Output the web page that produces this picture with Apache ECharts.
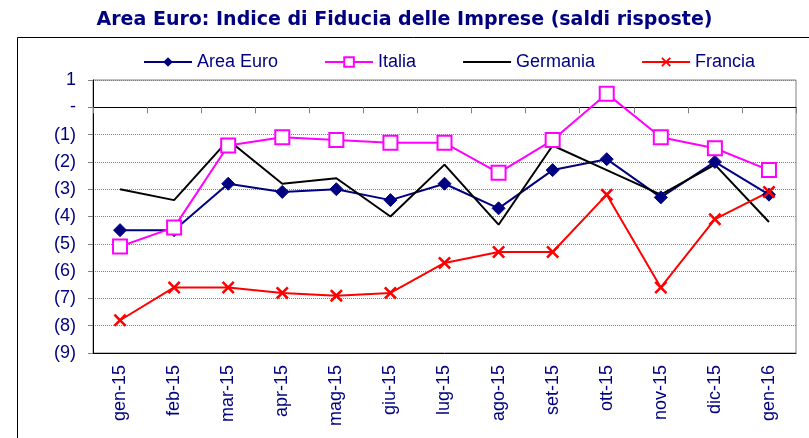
<!DOCTYPE html>
<html lang="it">
<head>
    <meta charset="UTF-8">
    <title>Area Euro: Indice di Fiducia delle Imprese</title>
    <script src="https://cdn.jsdelivr.net/npm/echarts@6.0.0/dist/echarts.min.js"></script>
    <style>
        body, html {
            margin: 0;
            padding: 0;
            background-color: #ffffff;
        }
        #chart {
            width: 809px;
            height: 438px;
        }
    </style>
</head>
<body>
    <div id="chart"></div>

    <script>
        // dati
        var mesi = ['gen-15', 'feb-15', 'mar-15', 'apr-15', 'mag-15', 'giu-15', 'lug-15',
                    'ago-15', 'set-15', 'ott-15', 'nov-15', 'dic-15', 'gen-16'];
        var areaEuro = [-4.5, -4.5, -2.8, -3.1, -3.0, -3.4, -2.8, -3.7, -2.3, -1.9, -3.3, -2.0, -3.2];
        var italia   = [-5.1, -4.4, -1.4, -1.1, -1.2, -1.3, -1.3, -2.4, -1.2, 0.5, -1.1, -1.5, -2.3];
        var germania = [-3.0, -3.4, -1.2, -2.8, -2.6, -4.0, -2.1, -4.3, -1.4, -2.3, -3.2, -2.1, -4.2];
        var francia  = [-7.8, -6.6, -6.6, -6.8, -6.9, -6.8, -5.7, -5.3, -5.3, -3.2, -6.6, -4.1, -3.1];

        var blu = '#000080';
        var font = 'Liberation Sans, Arial, sans-serif';

        // simbolo a croce (x)
        var croce = 'path://M0,1.4 L1.4,0 L5,3.6 L8.6,0 L10,1.4 L6.4,5 L10,8.6 L8.6,10 L5,6.4 L1.4,10 L0,8.6 L3.6,5 Z';

        var chart = echarts.init(document.getElementById('chart'));

        // etichette asse y: 1, -, (1), (2) ...
        function etichettaY(v) {
            if (v === 0) return '-';
            if (v < 0) return '(' + (-v) + ')';
            return String(v);
        }

        var option = {
            animation: false,
            title: {
                text: 'Area Euro: Indice di Fiducia delle Imprese (saldi risposte)',
                left: 'center',
                top: 6,
                textStyle: {
                    color: blu,
                    fontFamily: 'DejaVu Sans, Verdana, sans-serif',
                    fontSize: 19,
                    fontWeight: 'bold'
                }
            },
            graphic: [{
                type: 'rect',
                shape: { x: 17.5, y: 37.5, width: 800, height: 420 },
                style: { fill: 'none', stroke: '#000', lineWidth: 1 },
                silent: true
            }],
            legend: {
                left: 138,
                top: 48,
                itemWidth: 48,
                itemHeight: 12,
                itemGap: 46,
                textStyle: { color: blu, fontFamily: font, fontSize: 18 },
                data: ['Area Euro', 'Italia', { name: 'Germania', itemStyle: { opacity: 0 } }, 'Francia']
            },
            grid: {
                left: 93,
                right: 13,
                top: 80,
                bottom: 85,
                show: true,
                borderColor: '#808080',
                borderWidth: 1
            },
            xAxis: [{
                // linea dello zero con tacche
                type: 'category',
                data: mesi,
                position: 'bottom',
                boundaryGap: true,
                axisLine: { onZero: true, lineStyle: { color: '#000', width: 1 } },
                axisTick: { show: true, length: 6, lineStyle: { color: '#808080' } },
                axisLabel: { show: false },
                splitLine: { show: false }
            }, {
                // asse inferiore con le etichette
                type: 'category',
                data: mesi,
                position: 'bottom',
                boundaryGap: true,
                axisLine: { onZero: false, lineStyle: { color: '#000', width: 1 } },
                axisTick: { show: false },
                axisLabel: {
                    rotate: 90,
                    margin: 12,
                    color: blu,
                    fontFamily: font,
                    fontSize: 18
                },
                splitLine: { show: false }
            }],
            yAxis: {
                type: 'value',
                min: -9,
                max: 1,
                interval: 1,
                axisLine: { show: true, lineStyle: { color: '#000' } },
                axisTick: { show: true, length: 5, lineStyle: { color: '#808080' } },
                axisLabel: {
                    formatter: etichettaY,
                    margin: 17,
                    color: blu,
                    fontFamily: font,
                    fontSize: 18
                },
                splitLine: { show: true, lineStyle: { color: '#808080', type: [1, 1], width: 1 } }
            },
            series: [{
                name: 'Area Euro',
                type: 'line',
                data: areaEuro,
                symbol: 'diamond',
                symbolSize: 13,
                lineStyle: { color: blu, width: 2 },
                itemStyle: { color: blu, borderColor: blu }
            }, {
                name: 'Italia',
                type: 'line',
                data: italia,
                symbol: 'rect',
                symbolSize: 14,
                lineStyle: { color: '#ff00ff', width: 2 },
                itemStyle: { color: '#ffffff', borderColor: '#ff00ff', borderWidth: 2 }
            }, {
                name: 'Germania',
                type: 'line',
                data: germania,
                symbol: 'none',
                lineStyle: { color: '#000000', width: 2 },
                itemStyle: { color: 'rgba(0,0,0,0)' }
            }, {
                name: 'Francia',
                type: 'line',
                data: francia,
                symbol: croce,
                symbolSize: 13,
                lineStyle: { color: '#ff0000', width: 2 },
                itemStyle: { color: '#ff0000' }
            }]
        };

        chart.setOption(option);
    </script>
</body>
</html>
